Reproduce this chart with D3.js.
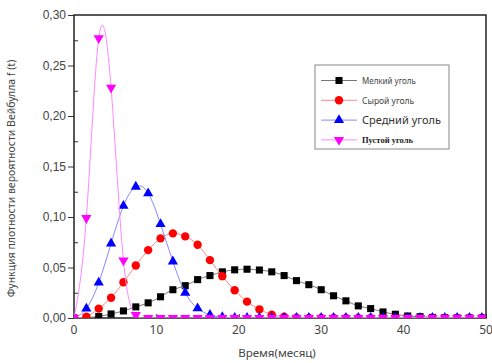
<!DOCTYPE html>
<html>
<head>
<meta charset="utf-8">
<script src="https://cdn.jsdelivr.net/npm/d3@7"></script>
<style>
  body { margin: 0; background: #fff; }
  svg { display: block; font-family: "Noto Sans", "Open Sans", sans-serif; }
</style>
</head>
<body>
<svg id="chart" width="492" height="363"></svg>
<script>
// time points (months)
var months = [0, 1.5, 3, 4.5, 6, 7.5, 9, 10.5, 12, 13.5, 15, 16.5, 18, 19.5, 21, 22.5, 24,
              25.5, 27, 28.5, 30, 31.5, 33, 34.5, 36, 37.5, 39, 40.5, 42, 43.5, 45, 46.5, 48, 49.5]

// Мелкий уголь
var fineCoal = [0, 0.0005, 0.0015, 0.004, 0.007, 0.011, 0.015, 0.021, 0.028, 0.032, 0.038, 0.042,
                0.0457, 0.0477, 0.0483, 0.0475, 0.0457, 0.042, 0.037, 0.033, 0.028, 0.022, 0.017,
                0.012, 0.0093, 0.006, 0.0037, 0.002, 0.0013, 0.0006, 0.0003, 0.0001, 0, 0]
// Сырой уголь
var wetCoal = [0, 0.0013, 0.0093, 0.020, 0.0354, 0.052, 0.0672, 0.0788, 0.0838, 0.0808, 0.0725,
               0.0573, 0.0414, 0.0275, 0.0162, 0.0086, 0.0033, 0.0013, 0.0004, 0.0001, 0, 0, 0,
               0, 0, 0, 0, 0, 0, 0, 0, 0, 0, 0]
// Средний уголь
var midCoal = [0, 0.0093, 0.035, 0.0738, 0.111, 0.130, 0.1235, 0.093, 0.056, 0.025, 0.0096, 0.003,
               0.0008, 0.0002, 0, 0, 0, 0, 0, 0, 0, 0, 0, 0, 0, 0, 0, 0, 0, 0, 0, 0, 0, 0]
// Пустой уголь
var emptyCoal = [0, 0.099, 0.277, 0.228, 0.057, 0.003, 0, 0, 0, 0, 0, 0, 0, 0, 0, 0, 0, 0, 0, 0,
                 0, 0, 0, 0, 0, 0, 0, 0, 0, 0, 0, 0, 0, 0]

var seriesNames = ['Мелкий уголь', 'Сырой уголь', 'Средний уголь', 'Пустой уголь']

var xTicks = [0, 10, 20, 30, 40, 50]
var yTicks = [0, 0.05, 0.10, 0.15, 0.20, 0.25, 0.30]
var yMinorTicks = [0.025, 0.075, 0.125, 0.175, 0.225, 0.275]

var series = [
  {name: seriesNames[0], values: fineCoal, color: '#000', line: '#777', symbol: d3.symbolSquare, size: 50,
   font: {size: '8px', family: '"Noto Sans", sans-serif', weight: 'normal', fill: '#444'}},
  {name: seriesNames[1], values: wetCoal, color: '#f00', line: '#f88', symbol: d3.symbolCircle, size: 55,
   font: {size: '8.5px', family: '"Noto Sans", sans-serif', weight: 'normal', fill: '#444'}},
  {name: seriesNames[2], values: midCoal, color: '#00f', line: '#88f', symbol: d3.symbolTriangle, size: 45,
   font: {size: '11px', family: '"Noto Sans", sans-serif', weight: 'normal', fill: '#333'}},
  {name: seriesNames[3], values: emptyCoal, color: '#f0f', line: '#f8f', symbol: 'down', size: 45,
   font: {size: '8.5px', family: '"Liberation Serif", serif', weight: 'bold', fill: '#222'}}
]

var margin = {top: 15, right: 6, bottom: 45, left: 74}
var width = 492, height = 363

var svg = d3.select('#chart')

var x = d3.scaleLinear().domain([0, 50]).range([margin.left, width - margin.right])
var y = d3.scaleLinear().domain([0, 0.30]).range([height - margin.bottom, margin.top])

svg.append('clipPath').attr('id', 'plotclip')
  .append('rect')
  .attr('x', x(0)).attr('y', y(0.30))
  .attr('width', x(50) - x(0)).attr('height', y(0) - y(0.30))

// axes
var fmt = v => d3.format('.2f')(v).replace('.', ',')

var yAxis = svg.append('g')
  .attr('transform', `translate(${x(0)},0)`)
  .call(d3.axisLeft(y).tickValues(yTicks).tickFormat(fmt).tickSize(6).tickSizeOuter(0))
yAxis.select('.domain').remove()
yAxis.selectAll('text').attr('fill', '#444').style('font-size', '12px').attr('x', -8)
yAxis.selectAll('line').attr('stroke', '#333')

var yMinor = svg.append('g')
  .attr('transform', `translate(${x(0)},0)`)
  .call(d3.axisRight(y).tickValues(yMinorTicks).tickFormat('').tickSize(4).tickSizeOuter(0))
yMinor.select('.domain').remove()
yMinor.selectAll('line').attr('stroke', '#333')

var xAxis = svg.append('g')
  .attr('transform', `translate(0,${y(0)})`)
  .call(d3.axisTop(x).tickValues(xTicks).tickFormat('').tickSize(4).tickSizeOuter(0))
xAxis.select('.domain').remove()
xAxis.selectAll('line').attr('stroke', '#333')

svg.append('g').selectAll('text').data(xTicks).enter().append('text')
  .attr('x', d => x(d)).attr('y', y(0) + 16)
  .attr('text-anchor', 'middle')
  .attr('fill', '#444').style('font-size', '12px')
  .text(d => d)

// frame
svg.append('rect')
  .attr('x', x(0)).attr('y', y(0.30))
  .attr('width', x(50) - x(0)).attr('height', y(0) - y(0.30))
  .attr('fill', 'none').attr('stroke', '#222').attr('stroke-width', 1.5)

// axis titles
svg.append('text')
  .attr('transform', `translate(15,${(y(0) + y(0.30)) / 2 + 12}) rotate(-90)`)
  .attr('text-anchor', 'middle')
  .attr('fill', '#444').style('font-size', '10.5px')
  .text('Функция плотности вероятности Вейбулла f (t)')

svg.append('text')
  .attr('x', 277).attr('y', 357)
  .attr('text-anchor', 'middle')
  .attr('fill', '#444').style('font-size', '11.5px')
  .text('Время(месяц)')

function symbolPath(s) {
  if (s.symbol === 'down') {
    return d3.symbol().type(d3.symbolTriangle).size(s.size)()
  }
  return d3.symbol().type(s.symbol).size(s.size)()
}

var plot = svg.append('g').attr('clip-path', 'url(#plotclip)')

var line = d3.line()
  .x((d, i) => x(months[i]))
  .y(d => y(d))
  .curve(d3.curveNatural)

series.forEach(s => {
  var g = plot.append('g')
  g.append('path')
    .attr('d', line(s.values))
    .attr('fill', 'none')
    .attr('stroke', s.line)
    .attr('stroke-width', 1)

  g.selectAll('path.pt').data(s.values).enter().append('path')
    .attr('class', 'pt')
    .attr('d', symbolPath(s))
    .attr('transform', (d, i) => `translate(${x(months[i])},${y(d)})` + (s.symbol === 'down' ? ' rotate(180)' : ''))
    .attr('fill', s.color)
})

// legend
var legend = svg.append('g')
legend.append('rect')
  .attr('x', 315).attr('y', 65).attr('width', 134).attr('height', 84)
  .attr('fill', '#fff').attr('stroke', '#888').attr('stroke-width', 1)

series.forEach((s, i) => {
  var ly = 80.5 + i * 19.8
  legend.append('line')
    .attr('x1', 321).attr('x2', 357).attr('y1', ly).attr('y2', ly)
    .attr('stroke', s.line).attr('stroke-width', 1)
  legend.append('path')
    .attr('d', symbolPath(s))
    .attr('transform', `translate(339,${ly})` + (s.symbol === 'down' ? ' rotate(180)' : ''))
    .attr('fill', s.color)
  legend.append('text')
    .attr('x', 362).attr('y', ly + 3.5)
    .attr('fill', s.font.fill)
    .style('font-size', s.font.size)
    .style('font-family', s.font.family)
    .style('font-weight', s.font.weight)
    .text(s.name)
})
</script>
</body>
</html>
